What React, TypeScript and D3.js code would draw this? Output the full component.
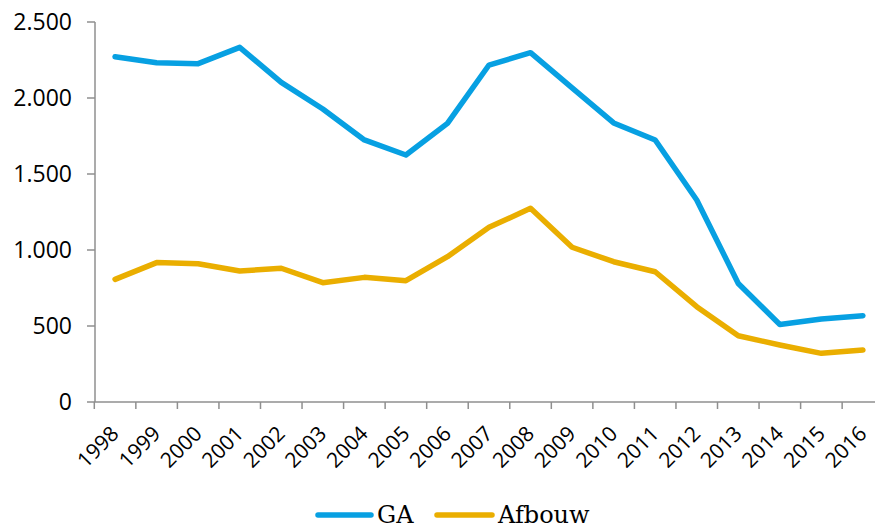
import React from "react";
import * as d3 from "d3";

const years = [
  "1998", "1999", "2000", "2001", "2002", "2003", "2004", "2005", "2006", "2007",
  "2008", "2009", "2010", "2011", "2012", "2013", "2014", "2015", "2016",
];
const gaValues = [
  2272, 2232, 2226, 2333, 2103, 1928, 1724, 1625, 1833, 2217,
  2298, 2066, 1836, 1724, 1329, 780, 510, 546, 568,
];
const afbouwValues = [
  807, 917, 910, 862, 880, 785, 820, 798, 956, 1149,
  1274, 1018, 923, 857, 627, 436, 375, 320, 342,
];
const yTicks = [0, 500, 1000, 1500, 2000, 2500];

const seriesList = [
  {name: "GA", values: gaValues, color: "#07A0E2"},
  {name: "Afbouw", values: afbouwValues, color: "#EAAE00"},
];

const width = 875;
const height = 529;
const axisColor = "#8f8f8f";

// Dutch thousands separator: 2.500
const fmt = (v: number) => d3.format(",")(v).replace(/,/g, ".");

export default function App(): JSX.Element {
  const x = d3.scaleBand<string>().domain(years).range([94.3, 883.7]);
  const y = d3.scaleLinear().domain([0, 2500]).range([402, 22]);
  const cx = (yr: string) => (x(yr) || 0) + x.bandwidth() / 2;

  const line = d3
    .line<number>()
    .x((_, i) => cx(years[i]))
    .y(d => y(d));

  const legendItems = [
    {x1: 318, x2: 371, tx: 377},
    {x1: 437, x2: 492, tx: 498},
  ];

  return (
    <svg
      width={width}
      height={height}
      style={{position: "absolute", left: 0, top: 0, background: "#fff"}}
    >
      {/* y axis */}
      <line x1={95} x2={95} y1={y(2500)} y2={y(0)} stroke={axisColor} strokeWidth={1.5} />
      {yTicks.map(t => (
        <g key={t}>
          <line x1={87} x2={95} y1={y(t)} y2={y(t)} stroke={axisColor} strokeWidth={1.5} />
          <text
            x={72}
            y={y(t)}
            dy="0.36em"
            textAnchor="end"
            fontFamily="'Open Sans', sans-serif"
            fontSize={23}
            fill="#000"
          >
            {fmt(t)}
          </text>
        </g>
      ))}

      {/* x axis */}
      <line x1={94.3} x2={width} y1={y(0)} y2={y(0)} stroke={axisColor} strokeWidth={1.5} />
      {years.map(yr => (
        <line
          key={"t" + yr}
          x1={x(yr) || 0}
          x2={x(yr) || 0}
          y1={y(0)}
          y2={y(0) + 7}
          stroke={axisColor}
          strokeWidth={1.5}
        />
      ))}
      {years.map(yr => (
        <text
          key={"l" + yr}
          transform={`translate(${cx(yr) + 5}, 435) rotate(-45)`}
          textAnchor="end"
          fontFamily="'Open Sans', sans-serif"
          fontSize={21}
          fill="#000"
        >
          {yr}
        </text>
      ))}

      {/* series */}
      {seriesList.map(s => (
        <path
          key={s.name}
          d={line(s.values) || ""}
          fill="none"
          stroke={s.color}
          strokeWidth={5.5}
          strokeLinejoin="round"
          strokeLinecap="round"
        />
      ))}

      {/* legend */}
      {seriesList.map((s, i) => (
        <g key={"lg" + s.name}>
          <line
            x1={legendItems[i].x1}
            x2={legendItems[i].x2}
            y1={515}
            y2={515}
            stroke={s.color}
            strokeWidth={5.5}
            strokeLinecap="round"
          />
          <text
            x={legendItems[i].tx}
            y={523}
            fontFamily="'DejaVu Serif', serif"
            fontSize={24}
            fill="#000"
          >
            {s.name}
          </text>
        </g>
      ))}
    </svg>
  );
}
